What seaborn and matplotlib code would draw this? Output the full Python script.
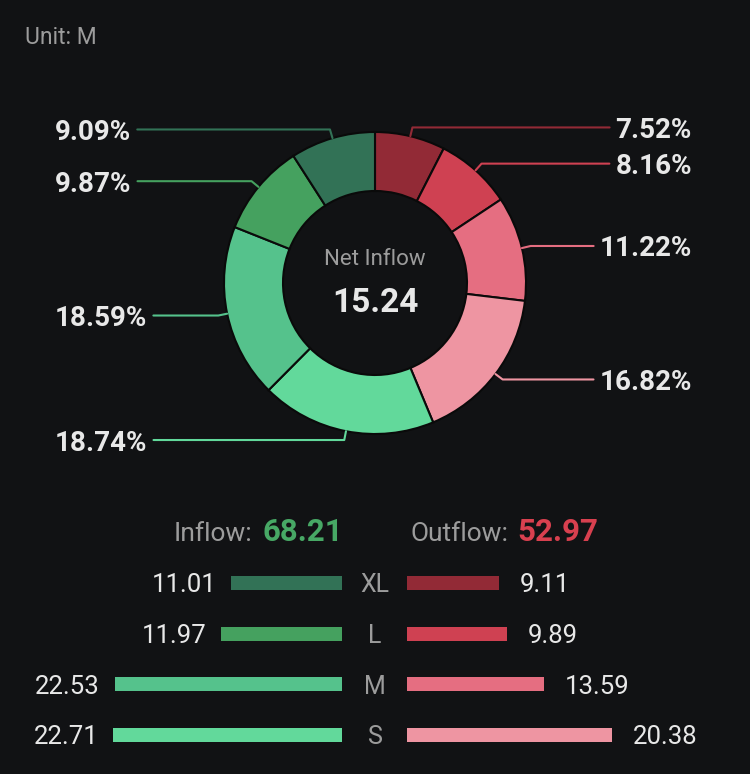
import matplotlib.pyplot as plt
import numpy as np
import pandas as pd
import seaborn as sns

# data
sizes = ["XL", "L", "M", "S"]
inflow = [11.01, 11.97, 22.53, 22.71]
outflow = [9.11, 9.89, 13.59, 20.38]
inflow_pct = ["9.09%", "9.87%", "18.59%", "18.74%"]
outflow_pct = ["7.52%", "8.16%", "11.22%", "16.82%"]
inflow_total = "68.21"
outflow_total = "52.97"
net_inflow = "15.24"

green = ["#327256", "#45a15f", "#55c28c", "#62d99b"]
red = ["#922a36", "#cf4152", "#e56e81", "#ee95a2"]
BG = "#111214"
GRAY = "#9c9c9c"
LIGHT = "#e8e8e8"
W, H = 750, 774

sns.set_theme(style="dark", rc={"figure.facecolor": BG, "axes.facecolor": BG})
plt.rcParams["font.family"] = ["Roboto", "DejaVu Sans"]

fig = plt.figure(figsize=(W / 100, H / 100), dpi=100)
ax = fig.add_axes([0, 0, 1, 1])

# donut: outflow clockwise from the top, then inflow back round
vals = outflow + inflow[::-1]
cols = red + green[::-1]
labels = outflow_pct + inflow_pct[::-1]
cx, cy, R = 375, H - 283, 151
wedges, _ = ax.pie(vals, colors=cols, startangle=90, counterclock=False,
                   center=(cx, cy), radius=R,
                   wedgeprops=dict(width=59, edgecolor="#0a0a0a", linewidth=1.5))
ax.set_xlim(0, W)
ax.set_ylim(0, H)
ax.axis("off")

ax.text(375, H - 257, "Net Inflow", ha="center", va="center_baseline",
        fontsize=16, color=GRAY)
ax.text(375, H - 299, net_inflow, ha="center", va="center_baseline",
        fontsize=24, fontweight="bold", color=LIGHT)
ax.text(25, H - 35, "Unit: M", ha="left", va="center_baseline",
        fontsize=16.5, color=GRAY)

fig.canvas.draw()
rend = fig.canvas.get_renderer()
for w, lab in zip(wedges, labels):
    a = np.deg2rad((w.theta1 + w.theta2) / 2)
    x0, y0 = cx + R * np.cos(a), cy + R * np.sin(a)
    x1, y1 = cx + (R + 9) * np.cos(a), cy + (R + 9) * np.sin(a)
    if np.cos(a) >= 0:
        t = ax.text(692, y1, lab, ha="right", va="center_baseline", fontsize=20,
                    fontweight="bold", color=LIGHT)
        x2 = t.get_window_extent(rend).x0 - 6
    else:
        t = ax.text(55, y1, lab, ha="left", va="center_baseline", fontsize=20,
                    fontweight="bold", color=LIGHT)
        x2 = t.get_window_extent(rend).x1 + 6
    ax.plot([x0, x1, x2], [y0, y1, y1], color=w.get_facecolor(), lw=1.5)

# totals header
ax.text(252, H - 541, "Inflow:", ha="right", va="baseline", fontsize=19, color=GRAY)
ax.text(262, H - 541, inflow_total, ha="left", va="baseline", fontsize=22.5,
        fontweight="bold", color="#47a865")
ax.text(508, H - 541, "Outflow:", ha="right", va="baseline", fontsize=19, color=GRAY)
ax.text(517, H - 541, outflow_total, ha="left", va="baseline", fontsize=22.5,
        fontweight="bold", color="#d8404f")

# bars by size
df = pd.DataFrame({"size": sizes, "inflow": inflow, "outflow": outflow})
scale = 10.07  # px per unit
axl = fig.add_axes([92 / W, 13.7 / H, 250 / W, 202.7 / H])
axr = fig.add_axes([407 / W, 13.7 / H, 250 / W, 202.7 / H])
sns.barplot(data=df, x="inflow", y="size", hue="size", palette=green, width=0.28,
            legend=False, ax=axl, orient="h", saturation=1, linewidth=0, edgecolor="none")
sns.barplot(data=df, x="outflow", y="size", hue="size", palette=red, width=0.28,
            legend=False, ax=axr, orient="h", saturation=1, linewidth=0, edgecolor="none")
axl.set_xlim(250 / scale, 0)
axr.set_xlim(0, 250 / scale)
for a_ in (axl, axr):
    a_.set_ylim(3.5, -0.5)
    a_.axis("off")

for i, (vi, vo) in enumerate(zip(inflow, outflow)):
    axl.text(vi + 15 / scale, i, f"{vi:.2f}", ha="right", va="center_baseline",
             fontsize=18.5, color=LIGHT, clip_on=False)
    axr.text(vo + 21 / scale, i, f"{vo:.2f}", ha="left", va="center_baseline",
             fontsize=18.5, color=LIGHT, clip_on=False)
    axr.text(-32 / 250, i, sizes[i], ha="center", va="center_baseline",
             fontsize=18, color=GRAY, transform=axr.get_yaxis_transform(), clip_on=False)

fig.savefig("out.png", dpi=100, facecolor=BG)
